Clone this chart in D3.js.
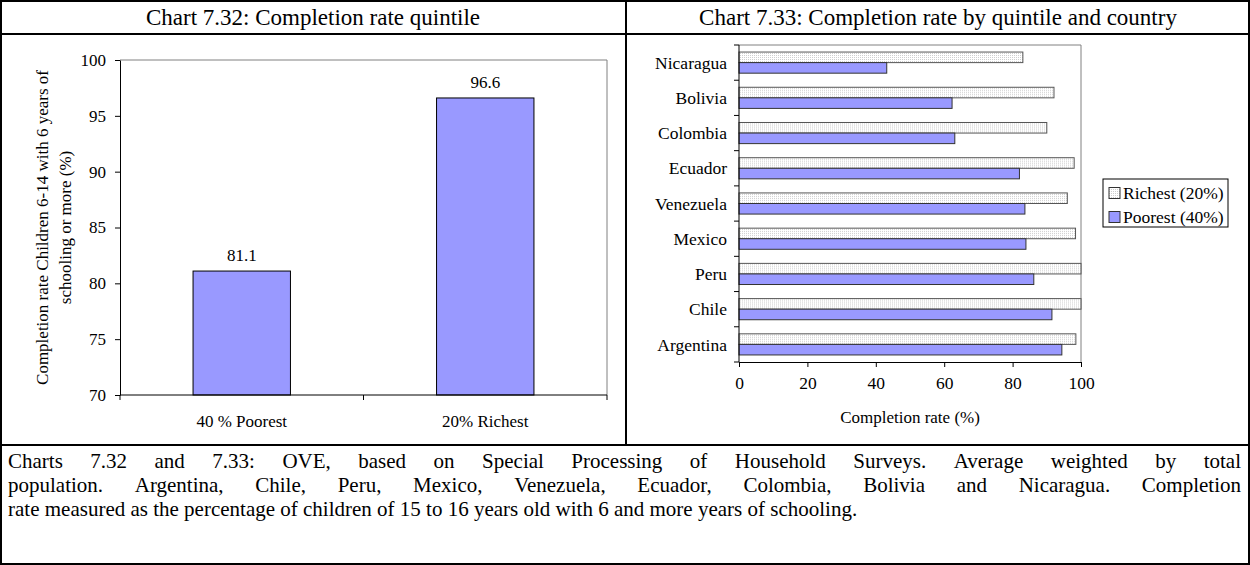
<!DOCTYPE html>
<html>
<head>
<meta charset="utf-8">
<script src="https://cdn.jsdelivr.net/npm/d3@7"></script>
<style>
    body { margin: 0; background: #fff; }
    svg { display: block; font-family: "Liberation Serif", "Times New Roman", serif; }
    .chart-title { font-size: 23px; text-anchor: middle; }
    .axis-label { font-size: 17px; }
    .caption { font-size: 21px; }
</style>
</head>
<body>
<div id="page"></div>
<script>
// Chart 7.32 data
const quintileCats = ["40 % Poorest", "20% Richest"];
const quintileVals = [81.1, 96.6];
const quintileTicks = [70, 75, 80, 85, 90, 95, 100];

// Chart 7.33 data
const countries = ["Nicaragua", "Bolivia", "Colombia", "Ecuador", "Venezuela", "Mexico", "Peru", "Chile", "Argentina"];
const richest = [83.0, 92.1, 90.0, 98.0, 96.0, 98.4, 100, 100, 98.5];
const poorest = [43.2, 62.3, 63.1, 82.0, 83.6, 83.9, 86.2, 91.5, 94.4];
const seriesNames = ["Richest (20%)", "Poorest (40%)"];
const countryTicks = [0, 20, 40, 60, 80, 100];

const captionText = [
    "Charts 7.32 and 7.33: OVE, based on Special Processing of Household Surveys. Average weighted by total",
    "population. Argentina, Chile, Peru, Mexico, Venezuela, Ecuador, Colombia, Bolivia and Nicaragua. Completion",
    "rate measured as the percentage of children of 15 to 16 years old with 6 and more years of schooling."
];

const width = 1250;
const height = 565;
const purple = "#9999ff";
const serif = "'Liberation Serif', 'Times New Roman', serif";

const svg = d3.select("#page")
    .append("svg")
    .attr("width", width)
    .attr("height", height);

// Dotted fill used by the "Richest" bars
const pattern = svg.append("defs").append("pattern")
    .attr("id", "dots")
    .attr("width", 2)
    .attr("height", 2)
    .attr("patternUnits", "userSpaceOnUse");
pattern.append("rect").attr("width", 2).attr("height", 2).attr("fill", "#fff");
pattern.append("rect").attr("width", 1).attr("height", 1).attr("fill", "#cfcfcf");

// Makes axis text serif, like the rest of the page
function styleAxis(a, size) {
    a.attr("font-family", serif).attr("font-size", size);
    a.selectAll("line, path").attr("stroke", "#000");
    a.selectAll("text").attr("fill", "#000");
}

/* FRAME: outer box, title row and caption row */
(() => {
    const frame = svg.append("g").attr("stroke", "#000").attr("stroke-width", 2).attr("fill", "none");
    frame.append("rect").attr("x", 1).attr("y", 1).attr("width", width - 2).attr("height", height - 2);
    frame.append("line").attr("x1", 0).attr("x2", width).attr("y1", 34).attr("y2", 34);
    frame.append("line").attr("x1", 0).attr("x2", width).attr("y1", 445).attr("y2", 445);
    frame.append("line").attr("x1", 626).attr("x2", 626).attr("y1", 0).attr("y2", 445);

    svg.append("text").text("Chart 7.32: Completion rate quintile")
        .classed("chart-title", true)
        .attr("x", 313).attr("y", 25);
    svg.append("text").text("Chart 7.33: Completion rate by quintile and country")
        .classed("chart-title", true)
        .attr("x", 938).attr("y", 25);
})();

/* GRAPH 1: COMPLETION RATE BY QUINTILE */
(() => {
    const left = 120, right = 607, top = 60, bottom = 395;

    const x = d3.scaleBand()
        .domain(quintileCats)
        .range([left, right]);

    const y = d3.scaleLinear()
        .domain([70, 100])
        .range([bottom, top]);

    const g = svg.append("g");

    // Plot area border (top and right in grey)
    g.append("path")
        .attr("d", `M${left},${top}H${right}V${bottom}`)
        .attr("fill", "none")
        .attr("stroke", "#808080");

    // Bars
    g.selectAll("rect.bar")
        .data(quintileCats)
        .enter()
        .append("rect")
        .attr("class", "bar")
        .attr("x", d => x(d) + x.bandwidth() * 0.3)
        .attr("width", x.bandwidth() * 0.4)
        .attr("y", (d, i) => y(quintileVals[i]))
        .attr("height", (d, i) => y(70) - y(quintileVals[i]))
        .attr("fill", purple)
        .attr("stroke", "#000")
        .attr("stroke-width", 1);

    // Value labels
    g.selectAll("text.value")
        .data(quintileCats)
        .enter()
        .append("text")
        .attr("class", "value")
        .text((d, i) => quintileVals[i].toFixed(1))
        .attr("x", d => x(d) + x.bandwidth() / 2)
        .attr("y", (d, i) => y(quintileVals[i]) - 10)
        .attr("text-anchor", "middle")
        .style("font-size", "17px");

    // Y axis
    g.append("g")
        .attr("transform", `translate(${left},0)`)
        .call(d3.axisLeft(y).tickValues(quintileTicks).tickSize(5).tickSizeOuter(0).tickPadding(9))
        .call(a => styleAxis(a, 17));

    // X axis with ticks on category boundaries
    const bounds = quintileCats.map(d => x(d)).concat([right]);
    g.append("line")
        .attr("x1", left).attr("x2", right)
        .attr("y1", bottom).attr("y2", bottom)
        .attr("stroke", "#000");
    g.selectAll("line.bound")
        .data(bounds)
        .enter()
        .append("line")
        .attr("class", "bound")
        .attr("x1", d => d).attr("x2", d => d)
        .attr("y1", bottom).attr("y2", bottom + 5)
        .attr("stroke", "#000");
    g.selectAll("text.cat")
        .data(quintileCats)
        .enter()
        .append("text")
        .attr("class", "cat")
        .text(d => d)
        .attr("x", d => x(d) + x.bandwidth() / 2)
        .attr("y", 427)
        .attr("text-anchor", "middle")
        .style("font-size", "17px");

    // Y axis title, two lines
    const yTitle = g.append("text")
        .classed("axis-label", true)
        .attr("text-anchor", "middle")
        .attr("transform", `translate(0, ${(top + bottom) / 2}) rotate(-90)`);
    yTitle.append("tspan").attr("x", 0).attr("y", 48).text("Completion rate Children 6-14 with 6 years of");
    yTitle.append("tspan").attr("x", 0).attr("y", 71).text("schooling or more (%)");
})();

/* GRAPH 2: COMPLETION RATE BY QUINTILE AND COUNTRY */
(() => {
    const left = 739, right = 1081, top = 45, bottom = 362;

    const x = d3.scaleLinear()
        .domain([0, 100])
        .range([left, right]);

    const y = d3.scaleBand()
        .domain(countries)
        .range([top, bottom]);

    const inner = d3.scaleBand()
        .domain(seriesNames)
        .range([0, y.bandwidth()])
        .paddingOuter(0.667);

    const g = svg.append("g");

    g.append("path")
        .attr("d", `M${left},${top}H${right}V${bottom}`)
        .attr("fill", "none")
        .attr("stroke", "#808080");

    const rows = countries.map((c, i) => ({country: c, values: [richest[i], poorest[i]]}));

    const groups = g.selectAll("g.row")
        .data(rows)
        .enter()
        .append("g")
        .attr("class", "row")
        .attr("transform", d => `translate(0, ${y(d.country)})`);

    groups.selectAll("rect")
        .data(d => d.values.map((v, j) => ({series: seriesNames[j], value: v})))
        .enter()
        .append("rect")
        .attr("x", x(0))
        .attr("y", d => inner(d.series))
        .attr("width", d => x(d.value) - x(0))
        .attr("height", inner.bandwidth())
        .attr("fill", d => d.series === seriesNames[0] ? "url(#dots)" : purple)
        .attr("stroke", d => d.series === seriesNames[0] ? "#555" : "#333")
        .attr("stroke-width", 1);

    // Country labels and boundary ticks
    g.append("line")
        .attr("x1", left).attr("x2", left)
        .attr("y1", top).attr("y2", bottom)
        .attr("stroke", "#000");
    const bounds = countries.map(d => y(d)).concat([bottom]);
    g.selectAll("line.bound")
        .data(bounds)
        .enter()
        .append("line")
        .attr("class", "bound")
        .attr("x1", left - 5).attr("x2", left)
        .attr("y1", d => d).attr("y2", d => d)
        .attr("stroke", "#000");
    g.selectAll("text.country")
        .data(countries)
        .enter()
        .append("text")
        .attr("class", "country")
        .text(d => d)
        .attr("x", 727)
        .attr("y", d => y(d) + y.bandwidth() / 2)
        .attr("dy", "0.35em")
        .attr("text-anchor", "end")
        .style("font-size", "17.5px");

    // X axis
    g.append("g")
        .attr("transform", `translate(0, ${bottom})`)
        .call(d3.axisBottom(x).tickValues(countryTicks).tickSize(5).tickSizeOuter(0).tickPadding(10))
        .call(a => styleAxis(a, 17.5));

    g.append("text")
        .text("Completion rate (%)")
        .classed("axis-label", true)
        .attr("text-anchor", "middle")
        .attr("x", (left + right) / 2)
        .attr("y", 423);

    // Legend
    const legend = g.append("g").attr("transform", "translate(1103, 179)");
    legend.append("rect")
        .attr("width", 125).attr("height", 48)
        .attr("fill", "#fff").attr("stroke", "#000");
    seriesNames.forEach((name, i) => {
        const row = legend.append("g").attr("transform", `translate(6, ${14 + i * 24})`);
        row.append("rect")
            .attr("x", 0).attr("y", -5.5)
            .attr("width", 11).attr("height", 11)
            .attr("fill", i === 0 ? "url(#dots)" : purple)
            .attr("stroke", "#333");
        row.append("text")
            .text(name)
            .attr("x", 14)
            .attr("dy", "0.35em")
            .style("font-size", "17.5px");
    });
})();

/* CAPTION: justified paragraph */
(() => {
    const x0 = 8, x1 = 1241;
    captionText.forEach((line, i) => {
        const yPos = 468 + i * 24;
        const words = line.split(" ");
        const last = i === captionText.length - 1;
        const texts = words.map(w => svg.append("text")
            .classed("caption", true)
            .attr("y", yPos)
            .text(w));
        const widths = texts.map(t => t.node().getComputedTextLength());
        const total = d3.sum(widths);
        const space = 5.25;
        const gap = last ? space : (x1 - x0 - total) / (words.length - 1);
        let pos = x0;
        texts.forEach((t, j) => {
            t.attr("x", pos);
            pos += widths[j] + gap;
        });
    });
})();
</script>
</body>
</html>
